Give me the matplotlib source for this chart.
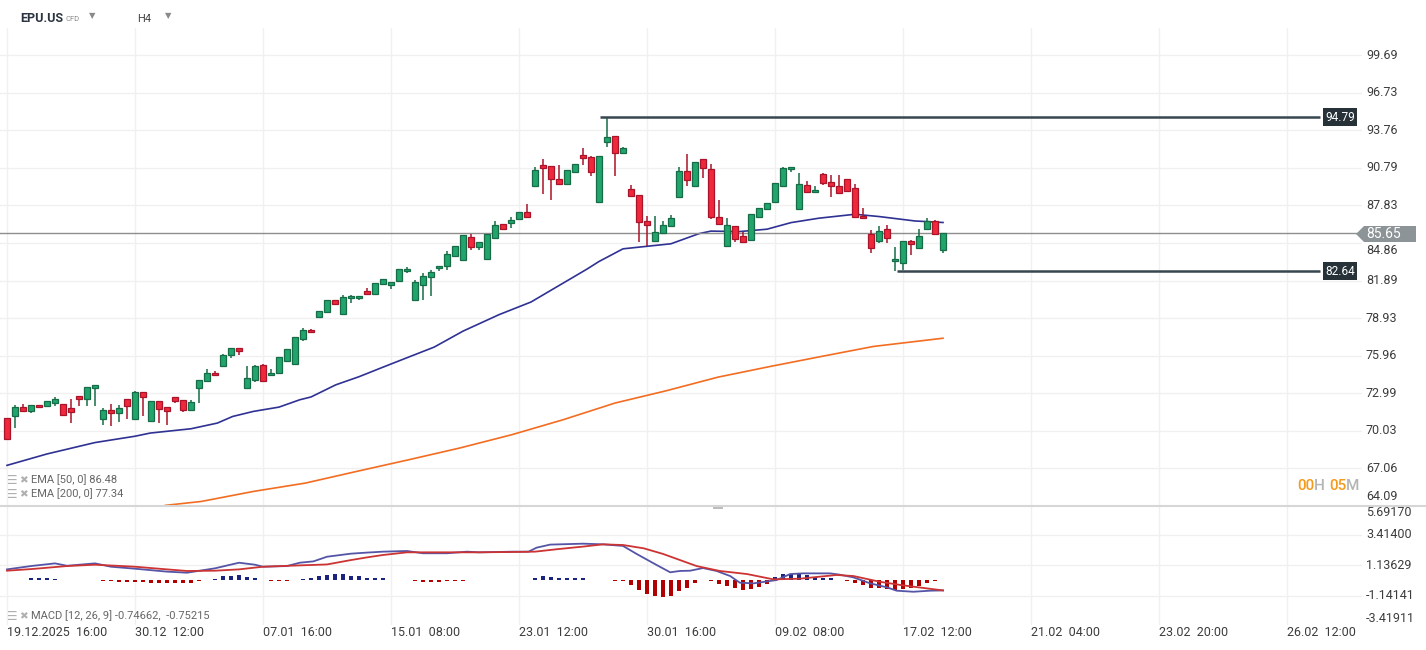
import matplotlib
matplotlib.use('Agg')
import matplotlib.pyplot as plt
from matplotlib.patches import Polygon, Rectangle
from matplotlib.lines import Line2D
import matplotlib.transforms as mtrans

plt.rcParams['font.family'] = ['Roboto', 'DejaVu Sans']

# ---------------- data ----------------
opens = [71.03, 71.16, 71.89, 71.63, 72.05, 71.95, 72.26, 72.13, 71.82, 72.76,
         72.53, 73.39, 70.95, 71.68, 71.47, 72.53, 70.95, 73.08, 70.79, 72.37,
         71.89, 72.68, 72.45, 71.71, 73.37, 73.93, 74.61, 75.11, 75.98, 76.56,
         73.40, 74.01, 75.21, 74.40, 74.58, 75.58, 75.29, 77.27, 78.01, 78.98,
         79.45, 80.35, 79.22, 80.48, 80.48, 81.08, 80.87, 81.61, 81.51, 81.82,
         82.61, 80.35, 81.51, 82.14, 82.85, 83.08, 83.87, 83.48, 85.32, 84.58,
         83.58, 85.24, 86.35, 86.42, 86.74, 87.29, 89.40, 91.00, 90.92, 89.90,
         89.50, 90.50, 91.79, 91.63, 88.08, 92.82, 93.29, 91.95, 89.11, 88.63,
         86.58, 85.05, 85.68, 86.18, 88.48, 90.53, 89.40, 91.48, 90.69, 86.95,
         84.63, 86.18, 85.42, 85.08, 86.95, 87.53, 88.08, 89.34, 90.71, 87.53,
         89.42, 88.87, 90.29, 89.71, 89.34, 89.89, 89.18, 86.99, 85.55, 85.00,
         85.95, 83.42, 83.26, 85.00, 84.45, 86.00, 86.63, 84.32]
highs = [71.05, 72.08, 72.13, 72.05, 72.10, 72.40, 72.68, 72.15, 72.53, 72.78,
         73.47, 73.65, 71.82, 72.16, 72.08, 72.55, 73.18, 73.10, 72.37, 72.39,
         71.91, 72.70, 72.47, 72.47, 74.05, 74.93, 74.74, 76.11, 76.58, 76.58,
         75.16, 75.20, 75.32, 74.93, 75.87, 76.50, 77.45, 78.11, 78.03, 79.52,
         80.37, 80.37, 80.74, 80.77, 80.68, 81.30, 81.74, 82.03, 81.79, 82.82,
         82.98, 81.95, 82.53, 82.74, 83.08, 84.24, 84.63, 85.53, 85.58, 84.95,
         85.58, 86.56, 86.37, 86.90, 87.31, 87.92, 90.84, 91.48, 90.94, 91.03,
         90.63, 91.10, 92.37, 91.74, 91.73, 94.79, 93.31, 92.42, 89.42, 88.65,
         86.97, 87.00, 86.58, 87.05, 90.84, 91.90, 91.26, 91.50, 91.11, 88.26,
         86.82, 86.20, 85.71, 87.15, 87.63, 88.02, 89.60, 90.89, 90.86, 90.37,
         89.74, 89.37, 90.42, 90.24, 90.24, 89.91, 89.53, 87.61, 85.89, 86.21,
         86.29, 84.58, 85.02, 85.10, 86.00, 86.82, 86.68, 85.67]
lows = [69.35, 70.24, 71.55, 71.47, 71.85, 71.90, 71.95, 71.22, 70.63, 71.95,
        71.95, 71.95, 70.45, 70.37, 70.76, 70.97, 70.93, 71.21, 70.77, 70.63,
        70.45, 72.26, 71.55, 71.69, 72.21, 73.91, 74.38, 75.09, 75.74, 76.03,
        73.38, 73.85, 73.91, 74.38, 74.56, 75.56, 75.27, 77.16, 77.78, 78.96,
        79.43, 80.06, 79.20, 80.16, 80.37, 80.85, 80.85, 81.59, 81.24, 81.80,
        82.53, 80.33, 80.32, 80.69, 82.61, 82.74, 83.80, 83.46, 84.32, 84.27,
        83.56, 85.22, 85.93, 86.08, 86.72, 86.93, 89.38, 88.74, 88.26, 89.48,
        89.48, 90.48, 91.03, 90.19, 88.06, 92.48, 90.19, 91.93, 88.56, 84.92,
        84.66, 85.03, 85.66, 86.16, 88.46, 89.40, 89.38, 90.03, 86.79, 86.32,
        84.61, 84.97, 84.92, 85.06, 86.87, 87.51, 88.06, 89.32, 90.50, 87.51,
        88.85, 88.85, 89.47, 88.53, 88.77, 88.93, 86.87, 86.80, 84.05, 84.84,
        84.84, 82.64, 82.74, 83.89, 84.43, 85.89, 85.56, 84.10]
closes = [69.37, 71.89, 71.63, 72.05, 71.89, 72.37, 72.53, 71.24, 71.55, 72.53,
          73.47, 73.63, 71.68, 71.47, 71.82, 71.95, 73.13, 72.68, 72.37, 71.79,
          71.63, 72.42, 71.71, 72.32, 74.03, 74.58, 74.40, 76.03, 76.56, 76.30,
          74.19, 75.16, 73.93, 74.61, 75.85, 76.48, 77.43, 78.01, 77.80, 79.50,
          80.35, 80.08, 80.58, 80.66, 80.66, 80.87, 81.72, 82.01, 81.77, 82.80,
          82.82, 81.77, 82.24, 82.58, 83.06, 84.00, 84.61, 85.51, 84.58, 84.93,
          85.56, 86.30, 85.95, 86.68, 87.29, 86.95, 90.61, 90.82, 89.95, 89.50,
          90.61, 91.08, 91.61, 90.45, 91.71, 93.21, 91.95, 92.34, 88.58, 86.50,
          86.26, 85.71, 86.26, 86.84, 90.53, 89.82, 91.24, 90.76, 86.95, 86.34,
          86.26, 85.16, 84.95, 87.13, 87.61, 88.00, 89.58, 90.76, 90.84, 89.50,
          88.87, 89.03, 89.58, 89.34, 88.79, 88.95, 86.89, 86.82, 84.45, 85.84,
          85.24, 83.58, 85.00, 84.76, 85.39, 86.63, 85.58, 85.65]

ema50_x = [0, 5, 11, 16, 17.9, 23, 26.3, 28.2, 30.8, 34, 36.6, 38, 41.1, 44,
           46.9, 50, 53.4, 57, 61.5, 65.5, 72.5, 74, 77, 80, 83, 86.5, 88,
           91.5, 95, 98, 101.5, 106, 109, 113.5, 117]
ema50_v = [67.3, 68.2, 69.1, 69.6, 69.85, 70.19, 70.64, 71.16, 71.56, 71.9,
           72.48, 72.7, 73.66, 74.3, 75.03, 75.8, 76.64, 77.9, 79.2, 80.2, 82.8,
           83.4, 84.4, 84.6, 84.8, 85.6, 85.8, 85.76, 85.95, 86.47, 86.82,
           87.13, 86.95, 86.6, 86.48]
ema200_x = [19.8, 24.3, 30.8, 37.3, 43.7, 50.2, 56.6, 63.1, 69.5, 76, 82.4,
            88.9, 95.4, 101.8, 108.3, 117]
ema200_v = [64.14, 64.45, 65.24, 65.9, 66.82, 67.74, 68.67, 69.72, 70.9, 72.22,
            73.19, 74.27, 75.11, 75.9, 76.69, 77.34]

macd_x = [0, 3, 6, 7.5, 11, 13, 16, 20, 22.5, 26, 29, 31, 32, 35, 36.6, 38.3,
          40, 43, 45, 47, 50, 52, 55, 57.5, 59, 63.3, 65.2, 66.2, 67.9, 72,
          74.5, 77, 78.7, 81.2, 82.9, 84.1, 85.4, 87, 88.7, 90.4, 91.6, 93.3,
          95.4, 96.2, 97.9, 99.5, 102.9, 104.1, 105.8, 107.9, 110, 111.2,
          113.3, 115.4, 117]
macd_v = [0.83, 1.08, 1.28, 1.10, 1.28, 1.03, 0.88, 0.66, 0.58, 0.91, 1.33,
          1.18, 1.03, 1.08, 1.33, 1.43, 1.78, 2.01, 2.09, 2.16, 2.21, 2.04,
          2.04, 2.16, 2.11, 2.16, 2.16, 2.46, 2.69, 2.76, 2.71, 2.59, 1.99,
          1.16, 0.61, 0.71, 0.73, 0.93, 0.71, 0.33, -0.17, -0.22, -0.04, 0.03,
          0.48, 0.53, 0.53, 0.43, 0.23, -0.22, -0.52, -0.77, -0.85, -0.77,
          -0.75]
signal_x = [0, 3.2, 7.5, 11, 16, 20, 22.5, 26, 29, 32, 36.6, 40, 43, 45, 47,
            50, 53, 59, 64, 66, 68.7, 72, 74.5, 77, 79.6, 82, 86.2, 89.1, 92.5,
            95.8, 99.1, 103.7, 105.8, 109.1, 112, 117]
signal_v = [0.73, 0.86, 1.08, 1.18, 1.03, 0.83, 0.71, 0.73, 0.83, 1.03, 1.13,
            1.20, 1.53, 1.73, 1.91, 2.11, 2.11, 2.11, 2.14, 2.16, 2.34, 2.54,
            2.71, 2.66, 2.41, 1.99, 1.08, 0.71, 0.48, 0.08, 0.13, 0.41, 0.33,
            -0.10, -0.37, -0.75]
hist = [0.03, 0.05, 0.05, 0.15, 0.15, 0.15, 0.07, 0.05, 0.0, 0.0,
        0.0, 0.05, -0.05, -0.08, -0.15, -0.15, -0.15, -0.15, -0.18, -0.18,
        -0.2, -0.2, -0.2, -0.2, -0.05, 0.05, 0.1, 0.3, 0.35, 0.4,
        0.25, 0.15, 0.0, -0.05, -0.05, -0.03, 0.05, 0.08, 0.15, 0.3,
        0.4, 0.45, 0.45, 0.35, 0.3, 0.2, 0.2, 0.15, 0.05, 0.05,
        0.05, -0.05, -0.1, -0.15, -0.12, -0.08, -0.08, -0.05, 0.0, 0.0,
        0.0, 0.05, 0.0, 0.0, 0.05, 0.0, 0.15, 0.3, 0.25, 0.2,
        0.18, 0.18, 0.15, 0.0, 0.0, 0.0, -0.05, -0.05, -0.38, -0.75,
        -1.05, -1.18, -1.25, -1.18, -0.8, -0.58, -0.2, 0.0, -0.05, -0.25,
        -0.45, -0.58, -0.75, -0.68, -0.5, -0.25, 0.25, 0.45, 0.5, 0.5,
        0.38, 0.25, 0.2, 0.18, 0.0, -0.05, -0.2, -0.35, -0.58, -0.58,
        -0.65, -0.75, -0.68, -0.6, -0.45, -0.2, -0.05, 0.0]

price_ticks = [99.69, 96.73, 93.76, 90.79, 87.83, 84.86, 81.89, 78.93, 75.96,
               72.99, 70.03, 67.06, 64.09]
macd_ticks = [5.69170, 3.41400, 1.13629, -1.14141, -3.41911]
date_idx = [0, 16, 32, 48, 64, 80, 96, 112, 128, 144, 160]
date_labels = ['19.12.2025  16:00', '30.12  12:00', '07.01  16:00',
               '15.01  08:00', '23.01  12:00', '30.01  16:00', '09.02  08:00',
               '17.02  12:00', '21.02  04:00', '23.02  20:00', '26.02  12:00']
resistance = 94.79
support = 82.64
last_price = 85.65
ema50_last = 86.48
ema200_last = 77.34
macd_last = -0.74662
signal_last = -0.75215

# ---------------- figure ----------------
W, H = 1426, 650
fig = plt.figure(figsize=(W / 100, H / 100), dpi=100)
fig.patch.set_facecolor('white')


def fx(x):
    return x / W


def fy(y):
    return 1 - y / H


ax = fig.add_axes([0, fy(506), fx(1362), (506 - 28) / H])
ax2 = fig.add_axes([0, fy(625), fx(1362), (625 - 506) / H])
for a in (ax, ax2):
    for s in a.spines.values():
        s.set_visible(False)
    a.set_xticks([])
    a.set_yticks([])
    a.set_xlim(-0.875, 169.375)
    a.set_facecolor('white')

ax.set_ylim(64.09, 101.84)
ax2.set_ylim(-3.346, 5.588)

grid_c = '#f0f0f0'
for p in price_ticks[:-1]:
    ax.axhline(p, color=grid_c, lw=1, zorder=0)
for m in macd_ticks[1:]:
    ax2.axhline(m, color=grid_c, lw=1, zorder=0)
for d in date_idx:
    ax.axvline(d, color=grid_c, lw=1, zorder=0)
    ax2.axvline(d, color=grid_c, lw=1, zorder=0)

# candles
g_face, g_edge = '#21a56d', '#176c47'
r_face, r_edge = '#f0283c', '#a8142a'
n = len(opens)
for i in range(n):
    o, h, l, c = opens[i], highs[i], lows[i], closes[i]
    up = c >= o
    fc = g_face if up else r_face
    ec = g_edge if up else r_edge
    ax.vlines(i, l, h, color=ec, lw=1.1, zorder=3)
    bot = min(o, c)
    ht = max(abs(c - o), 0.08)
    ax.add_patch(Rectangle((i - 0.33, bot), 0.66, ht, facecolor=fc,
                           edgecolor=ec, lw=0.9, zorder=4))

ax.plot(ema50_x, ema50_v, color='#2f3193', lw=1.2, zorder=2)
ax.plot(ema200_x, ema200_v, color='#f26d21', lw=1.2, zorder=2)

# current price line
ax.axhline(last_price, color='#8e8e8e', lw=1, zorder=2)

# horizontal levels
ax.plot([74.1, 164.1], [resistance, resistance], color='#37474f', lw=1.8,
        zorder=5, solid_capstyle='butt')
ax.plot([111.2, 164.1], [support, support], color='#37474f', lw=1.8,
        zorder=5, solid_capstyle='butt')

# MACD
hc = ['#1a237e' if v >= 0 else '#b00000' for v in hist]
ax2.bar(range(n), hist, width=0.42, color=hc, zorder=3)
ax2.plot(macd_x, macd_v, color='#5555a8', lw=1.3, zorder=4)
ax2.plot(signal_x, signal_v, color='#cc3333', lw=1.3, zorder=4)

# separators
fig.add_artist(Line2D([0, 1], [fy(506), fy(506)], color='#d6d6d6', lw=1.5))
fig.add_artist(Rectangle((fx(713), fy(509)), fx(10), 3 / H,
                         facecolor='#bdbdbd', edgecolor='none'))

# price axis labels
tr_main = mtrans.blended_transform_factory(fig.transFigure, ax.transData)
lab_c = '#3c3c3c'
for p in price_ticks:
    if p < 65:
        yv, va = 64.3, 'bottom'
    elif abs(p - last_price) < 1.0:
        # partly hidden behind the current-price tag in the reference
        yv, va = 84.79, 'top'
    else:
        yv, va = p, 'center'
    ax.text(fx(1366), yv, f'{p:.2f}', transform=tr_main, ha='left', va=va,
            fontsize=9, color=lab_c, clip_on=False, zorder=6)

tr_macd = mtrans.blended_transform_factory(fig.transFigure, ax2.transData)
for k, m in enumerate(macd_ticks):
    if k == 0:
        yv, va = 5.588, 'top'
    elif k == len(macd_ticks) - 1:
        yv, va = -3.346, 'bottom'
    else:
        yv, va = m, 'center'
    ax2.text(fx(1366), yv, f'{m:.5f}', transform=tr_macd, ha='left', va=va,
             fontsize=9, color=lab_c, clip_on=False)

# date labels
for d, lab in zip(date_idx, date_labels):
    xf = fx(7 + 8 * d)
    fig.text(xf, fy(633), lab, ha='left', va='center', fontsize=9,
             color=lab_c)


# value tags
def box_tag(yval, text, color, ax_):
    tr = mtrans.blended_transform_factory(fig.transFigure, ax_.transData)
    ax_.text(fx(1340), yval, text, transform=tr, ha='center', va='center',
             fontsize=8.5, color='white', clip_on=False, zorder=10,
             bbox=dict(boxstyle='square,pad=0.22', facecolor=color,
                       edgecolor='none'))


box_tag(resistance, f'{resistance:.2f}', '#263238', ax)
box_tag(support, f'{support:.2f}', '#263238', ax)

# current price tag with arrow
yc = fy(234)
h2 = 8 / H
poly = Polygon([(fx(1356), yc), (fx(1364), yc + h2), (fx(1416), yc + h2),
                (fx(1416), yc - h2), (fx(1364), yc - h2)], closed=True,
               facecolor='#8c9497', edgecolor='none', transform=fig.transFigure,
               zorder=20)
fig.add_artist(poly)
fig.text(fx(1366), yc, f'{last_price:.2f}', ha='left', va='center',
         fontsize=10, color='white', zorder=21)

# countdown
tx = fx(1297)
parts = [('00', '#f59b1c'), ('H ', '#b5b5b5'), ('05', '#f59b1c'), ('M', '#b5b5b5')]
renderer = fig.canvas.get_renderer()
cur = tx
for s, col in parts:
    tt = fig.text(cur, fy(486), s, ha='left', va='center', fontsize=11,
                  color=col, fontweight='medium')
    bb = tt.get_window_extent(renderer=renderer)
    cur += bb.width / W

# header
fig.text(fx(20), fy(18), 'EPU.US', ha='left', va='center', fontsize=9,
         fontweight='bold', color='#2b3440')
fig.text(fx(66), fy(19), 'CFD', ha='left', va='center', fontsize=5.5,
         color='#8a8a8a')
fig.text(fx(92), fy(16), '▼', ha='center', va='center', fontsize=6,
         color='#8a8a8a', family=['DejaVu Sans'])
fig.text(fx(137), fy(19), 'H4', ha='left', va='center', fontsize=8,
         color='#444444')
fig.text(fx(168), fy(16), '▼', ha='center', va='center', fontsize=6,
         color='#8a8a8a', family=['DejaVu Sans'])

# legends
icon_c = '#b0b0b0'
leg_c = '#666666'
legend_rows = [(480, f'EMA [50, 0] {ema50_last:.2f}'),
               (494, f'EMA [200, 0] {ema200_last:.2f}'),
               (616, f'MACD [12, 26, 9] {macd_last:.5f},  {signal_last:.5f}')]
for yy, txt in legend_rows:
    fig.text(fx(7), fy(yy), '☰', ha='left', va='center', fontsize=8.5,
             color=icon_c, family=['DejaVu Sans'])
    fig.text(fx(19), fy(yy), '✖', ha='left', va='center', fontsize=7.5,
             color=icon_c, family=['DejaVu Sans'])
    fig.text(fx(31), fy(yy), txt, ha='left', va='center', fontsize=8,
             color=leg_c)

fig.savefig('out.png', dpi=100, facecolor='white')
